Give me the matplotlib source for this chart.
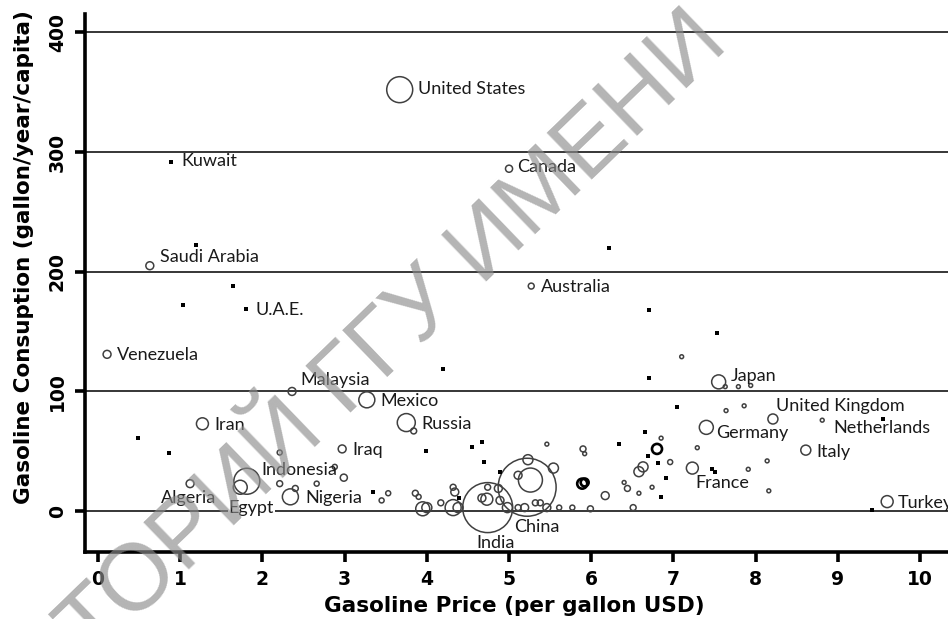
import matplotlib
matplotlib.use('Agg')
import numpy as np
from matplotlib import pyplot as plt

# gasoline price (USD/gallon), consumption (gallon/year/capita), population (millions)
# countries with a tiny population are drawn as black dots
price = [3.67, 5.00, 0.63, 5.27, 0.11, 2.36, 3.27, 3.75, 1.27, 2.97,
         1.81, 1.73, 1.12, 2.34, 4.74, 5.22, 7.55, 8.21, 7.40, 8.81,
         8.61, 7.23, 9.60,
         3.84, 2.21, 2.21, 2.40, 2.66, 2.88, 2.99, 3.45, 3.53, 3.86,
         3.90, 3.95, 4.00, 4.17, 4.32, 4.34, 4.32, 4.38, 4.74, 4.73,
         4.67, 4.89, 4.87, 4.98, 5.26, 5.23, 5.11, 5.46, 5.90, 5.92,
         5.54, 5.19, 5.11, 5.32, 5.38, 5.46, 5.61, 5.77, 5.99, 6.51,
         6.17, 6.40, 6.44, 6.58, 6.74, 6.63, 6.58, 6.96, 7.29, 6.85,
         7.64, 7.86, 7.91, 7.63, 7.79, 7.94, 7.10, 8.14, 8.16]
consumption = [352, 286, 205, 188, 131, 100, 93, 74, 73, 52,
               25, 20, 23, 12, 3, 20, 108, 77, 70, 76,
               51, 36, 8,
               67, 49, 23, 19, 23, 37, 28, 9, 15, 15,
               12, 2, 3, 7, 20, 16, 3, 3, 20, 10,
               11, 9, 19, 3, 26, 43, 30, 56, 52, 48,
               36, 3, 3, 7, 7, 3, 3, 3, 2, 3,
               13, 24, 19, 15, 20, 37, 33, 41, 53, 61,
               84, 88, 35, 104, 104, 105, 129, 42, 17]
population = [269, 20, 25, 14, 25, 25, 102, 129, 57, 25,
              269, 78, 25, 102, 996, 1340, 78, 40, 78, 6,
              40, 57, 57,
              14, 10, 14, 14, 10, 10, 20, 10, 10, 14,
              10, 78, 40, 14, 14, 25, 102, 40, 14, 57,
              25, 25, 25, 40, 230, 40, 25, 6, 14, 6,
              40, 25, 14, 14, 14, 25, 10, 10, 14, 14,
              25, 6, 14, 6, 6, 40, 40, 10, 6, 6,
              6, 6, 6, 6, 6, 6, 6, 6, 6]
country = ['United States', 'Canada', 'Saudi Arabia', 'Australia', 'Venezuela',
           'Malaysia', 'Mexico', 'Russia', 'Iran', 'Iraq', 'Indonesia', 'Egypt',
           'Algeria', 'Nigeria', 'India', 'China', 'Japan', 'United Kingdom',
           'Germany', 'Netherlands', 'Italy', 'France', 'Turkey']

# darker rings
dark_price = [5.89, 5.92, 6.80]
dark_consumption = [23, 24, 52]
dark_population = [40, 25, 40]

small_price = [0.89, 1.19, 1.03, 1.64, 1.80, 6.22, 6.70, 7.53, 4.20, 6.70,
               7.04, 0.49, 0.86, 3.99, 4.55, 4.67, 4.70, 4.89, 3.35, 4.39,
               6.34, 6.65, 6.69, 6.81, 6.91, 6.85, 7.47, 7.51, 9.55, 9.42]
small_consumption = [292, 222, 172, 188, 169, 220, 168, 149, 119, 111,
                     87, 61, 49, 50, 54, 58, 41, 33, 16, 11,
                     56, 66, 46, 40, 28, 12, 35, 33, 77, 1]
small_country = ['Kuwait', '', '', '', 'U.A.E.']

# label placement: (dx, dy) in pixels from the point, alignment
label_pos = {
    'United States': (18, 1, 'left'), 'Kuwait': (10, 1, 'left'),
    'Canada': (8, 2, 'left'), 'Saudi Arabia': (10, 9, 'left'),
    'U.A.E.': (10, -1, 'left'), 'Australia': (10, -1, 'left'),
    'Venezuela': (10, -1, 'left'), 'Malaysia': (8, 11, 'left'),
    'Mexico': (14, -1, 'left'), 'Russia': (15, -1, 'left'),
    'Iran': (12, -1, 'left'), 'Iraq': (10, -1, 'left'),
    'Indonesia': (15, 11, 'left'), 'Algeria': (-2, -14, 'center'),
    'Egypt': (11, -21, 'center'), 'Nigeria': (15, -1, 'left'),
    'China': (-13, -40, 'left'), 'India': (8, -35, 'center'),
    'Japan': (12, 6, 'left'), 'United Kingdom': (3, 13, 'left'),
    'Germany': (10, -6, 'left'), 'Netherlands': (11, -8, 'left'),
    'Italy': (11, -2, 'left'), 'France': (3, -15, 'left'),
    'Turkey': (11, -1, 'left'),
}

LABEL_FONT = 'Lato'
AXIS_FONT = 'DejaVu Sans'
DPI = 100


def bubble_area(pop):
    r_px = 0.792 * np.sqrt(np.asarray(pop, dtype=float))
    return (2 * r_px * 72 / DPI) ** 2


fig = plt.figure(figsize=(9.48, 6.19), dpi=DPI)
ax = fig.add_axes([0.0897, 0.108, 0.9103, 0.869])
ax.set_xlim(-0.158, 10.34)
ax.set_ylim(-34.2, 415)

ax.scatter(price, consumption, s=bubble_area(population), facecolors='none',
           edgecolors='#404040', linewidths=1.1, zorder=3)
ax.scatter(dark_price, dark_consumption, s=bubble_area(dark_population),
           facecolors='none', edgecolors='black', linewidths=1.9, zorder=3)
ax.scatter(small_price, small_consumption, s=10, marker='s', color='black',
           linewidths=0, zorder=3)

labelled = list(zip(price, consumption, country)) + list(zip(small_price, small_consumption, small_country))
for x, y, name in labelled:
    if not name:
        continue
    dx, dy, ha = label_pos[name]
    bbox = dict(facecolor='white', edgecolor='none', pad=0.5) if name == 'Egypt' else None
    ax.annotate(name, (x, y), xytext=(dx, dy), textcoords='offset pixels',
                ha=ha, va='center', fontsize=13, family=LABEL_FONT, color='#1a1a1a',
                bbox=bbox, zorder=4)

ax.set_xticks(range(0, 11))
ax.set_yticks(range(0, 401, 100))
ax.yaxis.grid(True, color='black', linewidth=1.1)
ax.set_axisbelow(True)
for side in ['top', 'right']:
    ax.spines[side].set_visible(False)
for side in ['left', 'bottom']:
    ax.spines[side].set_linewidth(2.6)
ax.tick_params(direction='out', length=7, width=2.6, labelsize=13.5)
ax.tick_params(axis='x', pad=6)
ax.tick_params(axis='y', pad=6)
for lab in ax.get_xticklabels() + ax.get_yticklabels():
    lab.set_fontweight('bold')
    lab.set_family(AXIS_FONT)
for lab in ax.get_yticklabels():
    lab.set_rotation(90)
    lab.set_va('center')

fig.text(514 / 948, 1 - 606 / 619, 'Gasoline Price (per gallon USD)', ha='center',
         va='center', fontsize=15.5, fontweight='bold', family=AXIS_FONT)
fig.text(24 / 948, 1 - 257 / 619, 'Gasoline Consuption (gallon/year/capita)',
         ha='center', va='center', rotation=90, fontsize=15.5, fontweight='bold',
         family=AXIS_FONT)

# watermark of the source document
fig.text(92 / 948, 1 - 662 / 619, 'ТОРИЙ ГГУ ИМЕНИ', rotation=44,
         rotation_mode='anchor', ha='left', va='baseline', fontsize=68,
         family='Liberation Sans', color='#8c8c8c', alpha=0.65, zorder=10)

fig.savefig('out.png', dpi=DPI)
